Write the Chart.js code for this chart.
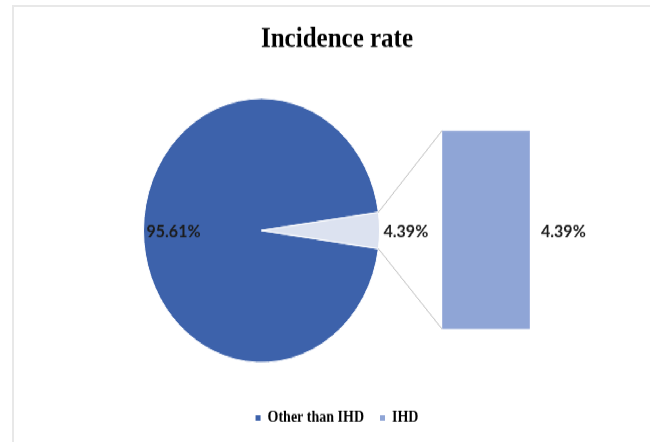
<!DOCTYPE html>
<html>
<head>
<meta charset="utf-8">
<script src="https://cdn.jsdelivr.net/npm/chart.js@4/dist/chart.umd.min.js"></script>
<style>
  html, body { margin: 0; padding: 0; background: #fff; overflow: hidden; width: 650px; height: 442px; }
  .frame { position: absolute; left: 12px; top: 5px; width: 700px; height: 500px;
           border-left: 2px solid #e8e8e8; border-top: 2px solid #e8e8e8; }
  /* the original picture is stretched a bit vertically, so the whole chart is too */
  .wrap { position: absolute; left: 12px; top: 0; width: 650px; height: 395px;
          transform: scaleY(1.119); transform-origin: 0 0; }
  .wrap canvas { position: absolute; left: 0; top: 0; }
</style>
</head>
<body>
<div class="frame"></div>
<div class="wrap">
  <canvas id="pieChart" width="650" height="395"></canvas>
  <canvas id="barChart" width="650" height="395"></canvas>
</div>
<script>
/* ===== Datos ===== */
const categories = ['Other than IHD', 'IHD'];
const pieValues  = [95.61, 4.39];
const barLabels  = ['IHD'];
const barValues  = [4.39];

/* ===== Estilos ===== */
const darkBlue  = '#3D62AB';
const paleBlue  = '#DCE2F0';
const barBlue   = '#8FA5D6';
const labelFont = '"Lato", "Liberation Sans", sans-serif';
const serifFont = '"Liberation Serif", "Times New Roman", serif';

const pct = v => v.toFixed(2) + '%';
const total = pieValues.reduce((a, b) => a + b, 0);

/* ===== Pie ===== */
const pieLabels = {
  id: 'pieLabels',
  afterDatasetsDraw(chart) {
    const arcs = chart.getDatasetMeta(0).data;
    const ctx = chart.ctx;
    ctx.save();
    ctx.font = 'bold 16px ' + labelFont;
    ctx.fillStyle = '#1c1c1c';
    ctx.textBaseline = 'middle';
    ctx.textAlign = 'left';
    const a0 = arcs[0], a1 = arcs[1];
    // inside end for the big slice, outside end for the small one
    ctx.fillText(pct(pieValues[0]), a0.x - a0.outerRadius + 3, a0.y + 1);
    ctx.fillText(pct(pieValues[1]), a1.x + a1.outerRadius + 4, a1.y + 1);
    ctx.restore();
  }
};

const pieChart = new Chart(document.getElementById('pieChart'), {
  type: 'pie',
  data: {
    labels: categories,
    datasets: [{
      data: pieValues,
      backgroundColor: [darkBlue, paleBlue],
      borderColor: '#fff',
      borderWidth: 1
    }]
  },
  options: {
    responsive: false,
    animation: false,
    rotation: 90 + pieValues[1] / total * 180,
    layout: { padding: { left: 131, right: 282, top: 87.5, bottom: 70.5 } },
    plugins: { legend: { display: false }, title: { display: false }, tooltip: { enabled: false } }
  },
  plugins: [pieLabels]
});

/* ===== Barra + conectores ===== */
const connectors = {
  id: 'connectors',
  afterDatasetsDraw(chart) {
    const ctx = chart.ctx;
    const bar = chart.getDatasetMeta(0).data[0];
    const arc = pieChart.getDatasetMeta(0).data[1];
    const left = bar.x - bar.width / 2;
    const r = arc.outerRadius;
    ctx.save();
    ctx.strokeStyle = '#bfbfbf';
    ctx.lineWidth = 1;
    ctx.beginPath();
    ctx.moveTo(arc.x + r * Math.cos(arc.startAngle), arc.y + r * Math.sin(arc.startAngle));
    ctx.lineTo(left, bar.y);
    ctx.moveTo(arc.x + r * Math.cos(arc.endAngle), arc.y + r * Math.sin(arc.endAngle));
    ctx.lineTo(left, bar.base);
    ctx.stroke();
    // etiqueta de la barra
    ctx.font = 'bold 16px ' + labelFont;
    ctx.fillStyle = '#1c1c1c';
    ctx.textBaseline = 'middle';
    ctx.textAlign = 'left';
    ctx.fillText(pct(barValues[0]), bar.x + bar.width / 2 + 11, (bar.y + bar.base) / 2 + 1);
    ctx.restore();
  }
};

const hidden = { grid: { display: false }, ticks: { display: false }, border: { display: false } };

new Chart(document.getElementById('barChart'), {
  type: 'bar',
  data: {
    labels: barLabels,
    datasets: [{
      data: barValues,
      backgroundColor: barBlue,
      borderColor: '#aebde3',
      borderWidth: 1,
      barPercentage: 1,
      categoryPercentage: 1
    }]
  },
  options: {
    responsive: false,
    animation: false,
    layout: { padding: { top: 0, bottom: 4.5 } },
    plugins: {
      title: {
        display: true,
        text: 'Incidence rate',
        color: '#000',
        font: { family: serifFont, size: 25, weight: 'bold' },
        padding: { top: 20.7, bottom: 66.1 }
      },
      legend: {
        position: 'bottom',
        labels: {
          boxWidth: 5,
          boxHeight: 5,
          padding: 16,
          color: '#1a1a1a',
          font: { family: serifFont, size: 14, weight: 'bold' },
          generateLabels: () => categories.map((c, i) => ({
            text: c,
            fillStyle: [darkBlue, barBlue][i],
            strokeStyle: [darkBlue, barBlue][i],
            lineWidth: 0,
            hidden: false,
            index: i
          }))
        },
        onClick: () => {}
      },
      tooltip: { enabled: false }
    },
    scales: {
      x: { display: true, ...hidden, afterFit: s => { s.height = 56.5; } },
      y: { display: true, min: 0, max: barValues.reduce((a, b) => a + b, 0), ...hidden,
           afterFit: s => { s.width = 430; } },
      yr: { display: true, position: 'right', ...hidden, afterFit: s => { s.width = 132; } }
    }
  },
  plugins: [connectors]
});
</script>
</body>
</html>
